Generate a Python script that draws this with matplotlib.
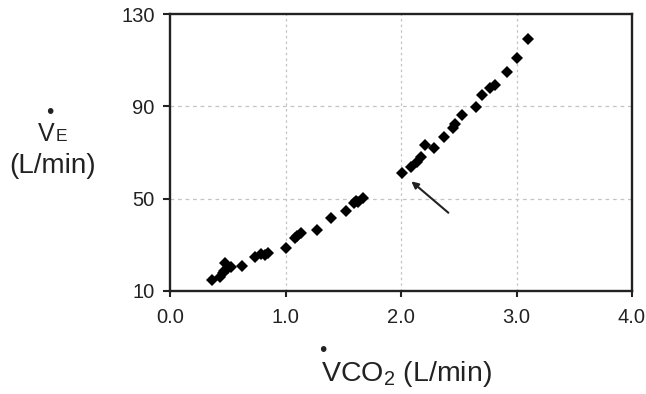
import matplotlib.pyplot as plt

plt.rcParams['font.family'] = ['Liberation Sans', 'DejaVu Sans']
plt.rcParams['mathtext.fontset'] = 'custom'
plt.rcParams['mathtext.rm'] = 'Liberation Sans'

# VCO2 (L/min) vs VE (L/min) during incremental exercise
vco2 = [0.36, 0.43, 0.46, 0.47, 0.48, 0.50, 0.53, 0.62, 0.74, 0.79, 0.82, 0.85,
        1.00, 1.08, 1.10, 1.13, 1.27, 1.39, 1.52, 1.59, 1.61, 1.63, 1.67,
        2.01, 2.09, 2.14, 2.17, 2.21, 2.29, 2.37, 2.45, 2.47, 2.53, 2.65,
        2.70, 2.77, 2.81, 2.92, 3.00, 3.10]
ve = [14.8, 16.2, 17.7, 18.5, 22.0, 19.8, 20.5, 20.8, 24.6, 26.0, 25.5, 26.3,
      28.5, 32.8, 34.0, 35.0, 36.4, 41.5, 44.8, 48.0, 49.0, 48.7, 50.2,
      61.0, 63.9, 66.0, 67.9, 73.3, 72.1, 76.9, 80.5, 82.4, 86.3, 89.9,
      94.9, 97.8, 99.3, 105.0, 110.8, 119.0]

xticks = [0.0, 1.0, 2.0, 3.0, 4.0]
yticks = [10, 50, 90, 130]

fig = plt.figure(figsize=(6.46, 3.94), dpi=100)
ax = fig.add_axes([170/646, 1-291/394, 462/646, 277/394])

ax.plot(vco2, ve, 'D', color='black', markersize=6.6, markeredgewidth=0, zorder=3)

ax.set_xlim(0, 4)
ax.set_ylim(10, 130)
ax.set_xticks(xticks)
ax.set_xticklabels(['%.1f' % t for t in xticks])
ax.set_yticks(yticks)
ax.tick_params(axis='both', labelsize=14.5, direction='out', width=1.5, colors='#222222')
ax.tick_params(axis='x', length=4, pad=8)
ax.tick_params(axis='y', length=5, pad=6)
for s in ax.spines.values():
    s.set_linewidth(1.7)
    s.set_color('#222222')

for t in xticks[1:-1]:
    ax.axvline(t, color='#c4c4c4', lw=0.9, ls=(0, (2, 2.5)), zorder=1)
for t in yticks[1:-1]:
    ax.axhline(t, color='#c4c4c4', lw=0.9, ls=(0, (3, 3)), zorder=1)

# arrow pointing at the break in slope
ax.annotate('', xy=(2.09, 57.5), xytext=(2.41, 43.9),
            arrowprops=dict(arrowstyle='-|>', color='#222222', lw=1.5,
                            mutation_scale=10, shrinkA=0, shrinkB=0))

# y label: dotted V, small E, units
fig.text(46/646, 1-141/394, 'V', fontsize=18, ha='center', va='baseline', color='#222222')
fig.text(61/646, 1-141/394, 'E', fontsize=12.5, ha='center', va='baseline', color='#222222')
fig.text(50/646, 1-112/394, '\u2022', fontsize=15, ha='center', va='center', color='#222222')
fig.text(53/646, 1-166/394, '(L/min)', fontsize=20, ha='center', va='center', color='#222222')

# x label
fig.text(406/646, 1-381/394, r'VCO$_2$ (L/min)', fontsize=20.5, ha='center', va='baseline',
         color='#222222')
fig.text(323/646, 1-350/394, '\u2022', fontsize=15, ha='center', va='center', color='#222222')

fig.savefig('out.png', dpi=100)
